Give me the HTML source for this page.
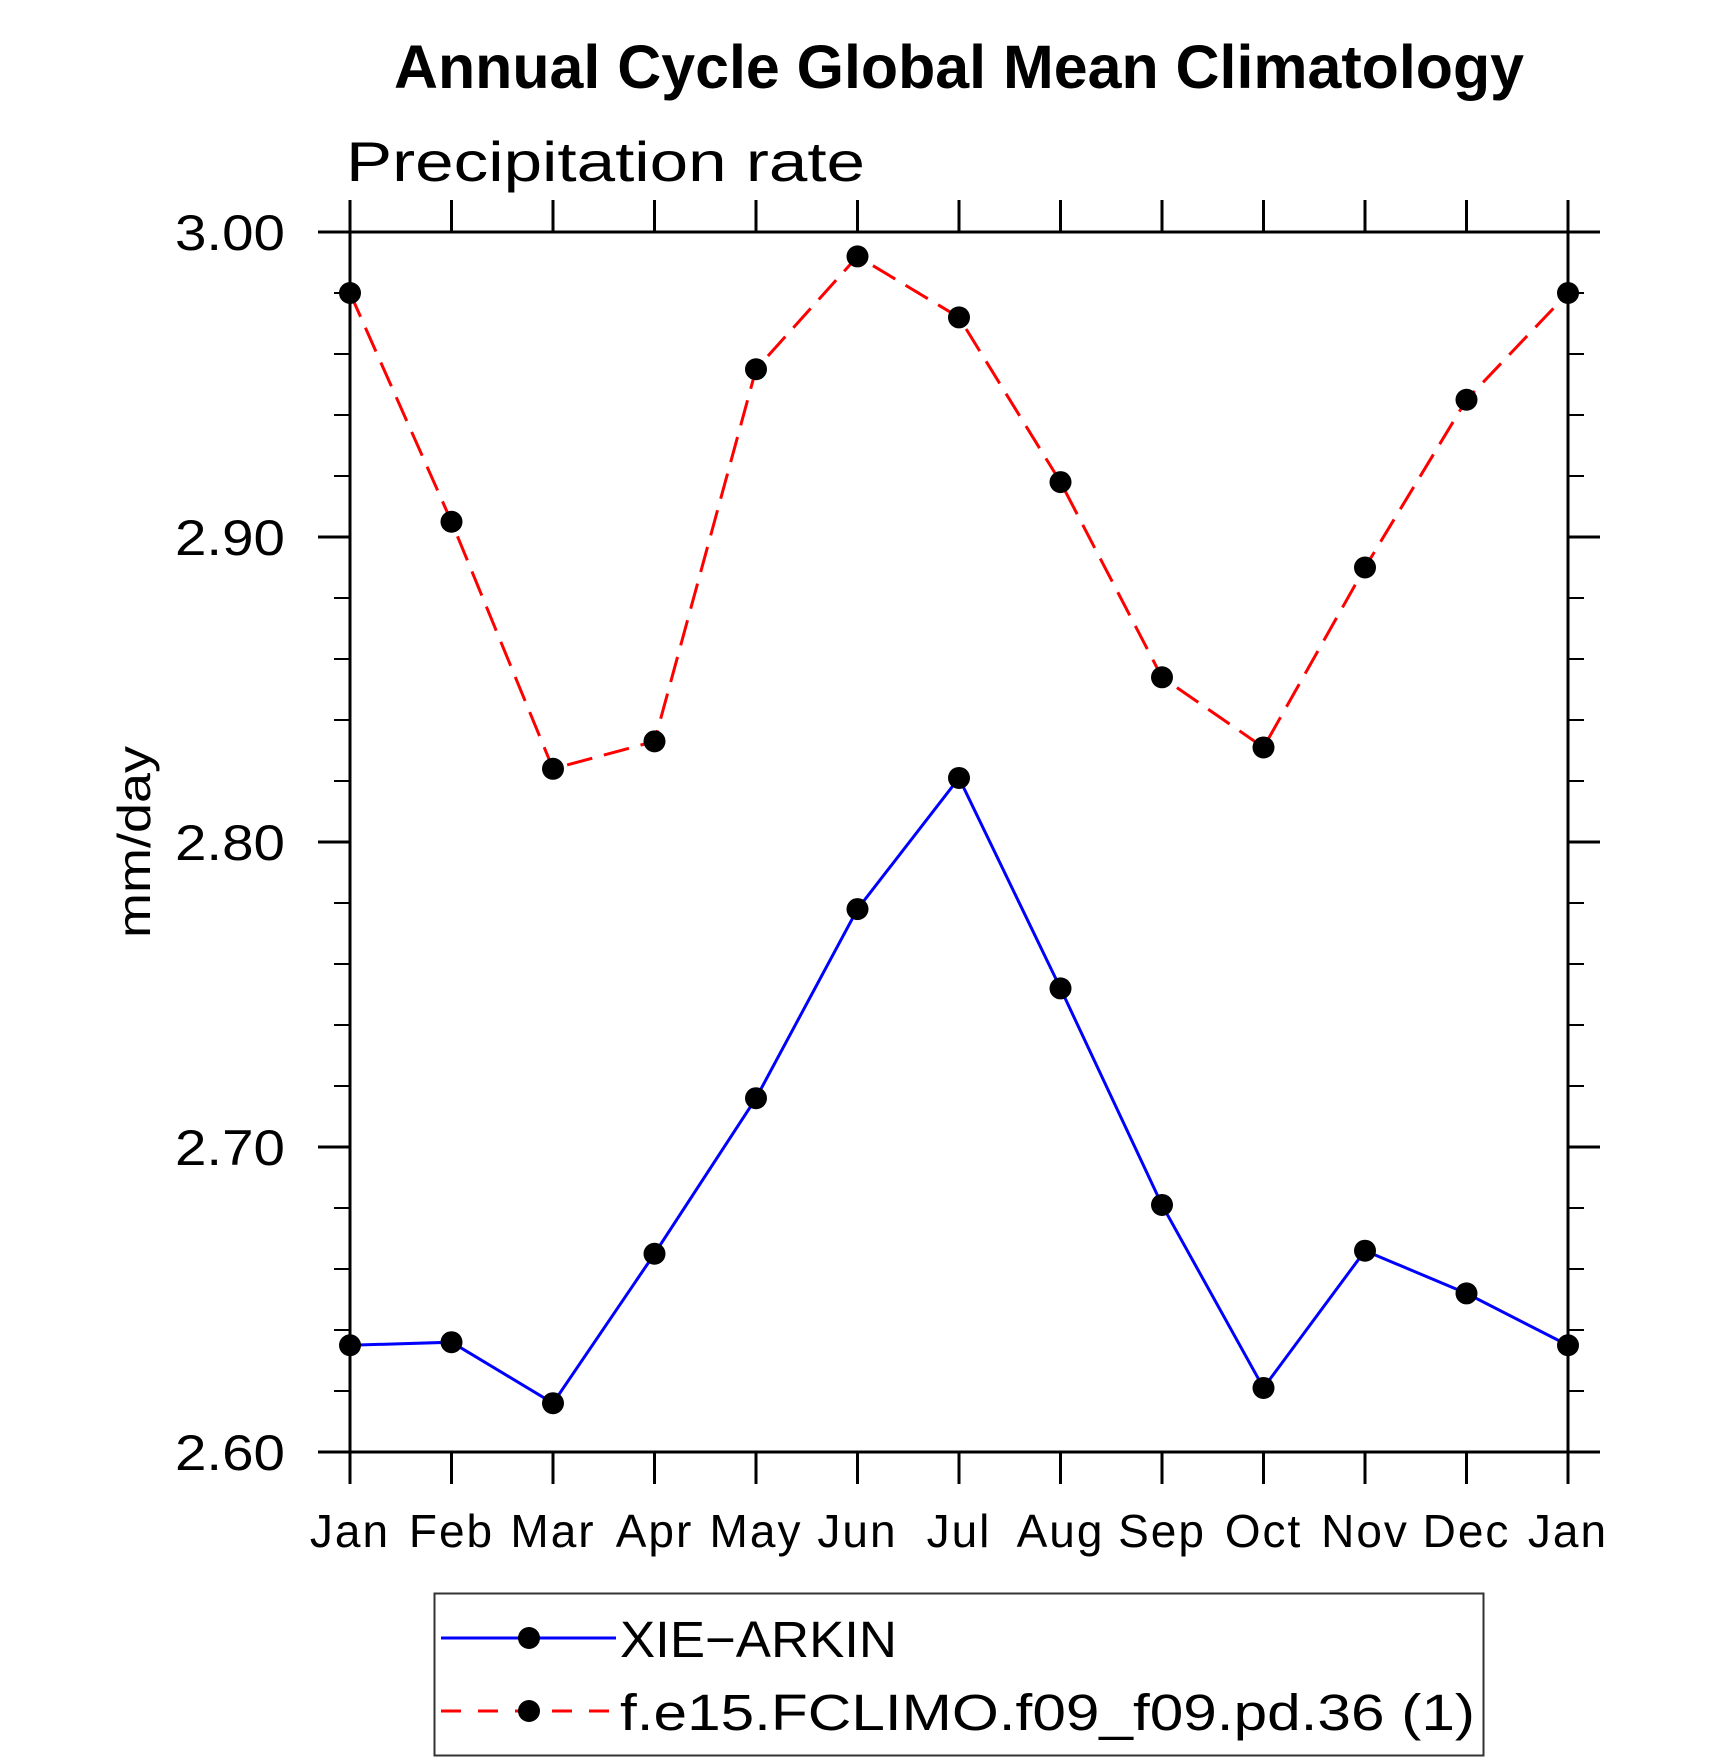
<!DOCTYPE html>
<html><head><meta charset="utf-8"><style>
html,body{margin:0;padding:0;background:#fff;}
svg{display:block;font-family:"Liberation Sans",sans-serif;}
.thin{font-weight:normal;fill:#000;}
</style></head><body>
<svg id="chart" width="1710" height="1762" viewBox="0 0 1710 1762" xmlns="http://www.w3.org/2000/svg">
<text x="959" y="88" text-anchor="middle" font-size="61" font-weight="bold" textLength="1130" lengthAdjust="spacingAndGlyphs">Annual Cycle Global Mean Climatology</text>
<text x="346" y="181" font-size="56" class="thin" textLength="519" lengthAdjust="spacingAndGlyphs">Precipitation rate</text>
<text transform="translate(150,842) rotate(-90)" text-anchor="middle" font-size="46" class="thin" textLength="192" lengthAdjust="spacingAndGlyphs">mm/day</text>
<g id="axes"></g>
<g id="series"></g>
<g>
<rect x="434.5" y="1593.5" width="1049" height="162" fill="none" stroke="#333" stroke-width="2"/>
<g>
<line x1="441" y1="1638" x2="616" y2="1638" stroke="#0000ff" stroke-width="3"/>
<circle cx="529" cy="1638" r="11"/>
<text x="620" y="1657" font-size="51" class="thin" textLength="277" lengthAdjust="spacingAndGlyphs">XIE−ARKIN</text>
</g>
<g>
<line x1="441" y1="1711" x2="616" y2="1711" stroke="#ff0000" stroke-width="3" stroke-dasharray="20,17"/>
<circle cx="529" cy="1711" r="11"/>
<text x="620" y="1730" font-size="51" class="thin" textLength="855" lengthAdjust="spacingAndGlyphs">f.e15.FCLIMO.f09_f09.pd.36 (1)</text>
</g>
</g>
</svg>
<script>
const months = ["Jan","Feb","Mar","Apr","May","Jun","Jul","Aug","Sep","Oct","Nov","Dec","Jan"];
const xieArkin = [2.635,2.636,2.616,2.665,2.716,2.778,2.821,2.752,2.681,2.621,2.666,2.652,2.635];
const model = [2.980,2.905,2.824,2.833,2.955,2.992,2.972,2.918,2.854,2.831,2.890,2.945,2.980];
const yTicks = [2.60,2.70,2.80,2.90,3.00];
const yTickLabels = ["2.60","2.70","2.80","2.90","3.00"];
const yMin = 2.6, yMax = 3.0;

const NS = "http://www.w3.org/2000/svg";
const L = 350, R = 1568, T = 232, B = 1452;
function xs(i){ return L + (R - L) * i / (months.length - 1); }
function ys(v){ return B - (B - T) * (v - yMin) / (yMax - yMin); }
function mk(tag, attrs, parent){ const e = document.createElementNS(NS, tag); for (const k in attrs) e.setAttribute(k, attrs[k]); parent.appendChild(e); return e; }
const axes = document.getElementById('axes');
const series = document.getElementById('series');

const frame = mk('rect', {x:L, y:T, width:R-L, height:B-T, fill:'none', stroke:'#000', 'stroke-width':3}, axes);



months.forEach((m, i) => {
  const x = xs(i);
  const tb = mk('line', {x1:x, y1:B, x2:x, y2:B+32, stroke:'#000', 'stroke-width':3}, axes);
  
  
  const tt = mk('line', {x1:x, y1:T, x2:x, y2:T-32, stroke:'#000', 'stroke-width':3}, axes);
  
  
  const lb = mk('text', {x:x, y:1547, 'text-anchor':'middle', 'font-size':46, 'letter-spacing':2, class:'thin'}, axes);
  lb.textContent = m;
  
  
});

for (let k = 0; k <= 20; k++) {
  const v = yMin + k * 0.02;
  const y = ys(v);
  const major = k % 5 === 0;
  const len = major ? 32 : 16;
  const a = mk('line', {x1:L, y1:y, x2:L-len, y2:y, stroke:'#000', 'stroke-width':major?3:2}, axes);
  
  
  const b = mk('line', {x1:R, y1:y, x2:R+len, y2:y, stroke:'#000', 'stroke-width':major?3:2}, axes);
  
  
}
yTicks.forEach((v, i) => {
  const t = mk('text', {x:175, y:ys(v)+18, 'font-size':50, textLength:110, lengthAdjust:'spacingAndGlyphs', class:'thin'}, axes);
  t.textContent = yTickLabels[i];
  
  
});

function drawSeries(vals, color, dash, name){
  const pts = vals.map((v, i) => xs(i) + ',' + ys(v)).join(' ');
  const pl = mk('polyline', {points:pts, fill:'none', stroke:color, 'stroke-width':3, 'stroke-dasharray':dash}, series);
  
  
  vals.forEach((v, i) => {
    const c = mk('circle', {cx:xs(i), cy:ys(v), r:11, fill:'#000'}, series);
    
    
  });
}
drawSeries(model, '#ff0000', '26,12', 'model');
drawSeries(xieArkin, '#0000ff', 'none', 'xie-arkin');
</script>
</body></html>
